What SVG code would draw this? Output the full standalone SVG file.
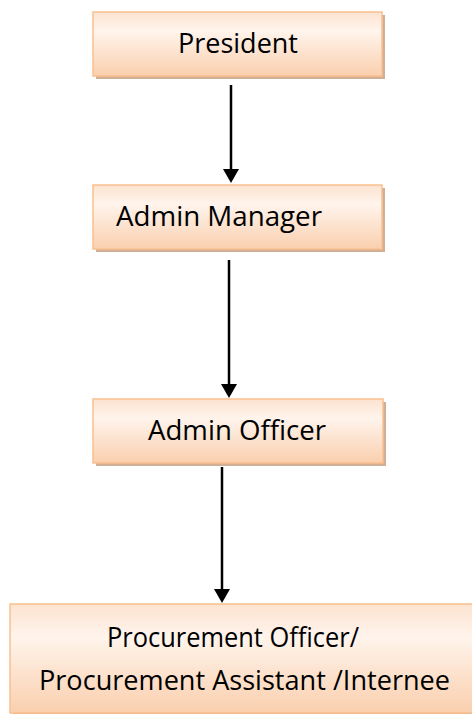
<svg xmlns="http://www.w3.org/2000/svg" width="472" height="714" viewBox="0 0 472 714">
  <defs>
    <linearGradient id="fill" x1="0" y1="0" x2="0" y2="1">
      <stop offset="0" stop-color="#FCE3D0"/>
      <stop offset="0.3" stop-color="#FFF4EC"/>
      <stop offset="1" stop-color="#FACFAE"/>
    </linearGradient>
    <marker id="arrow" markerUnits="userSpaceOnUse" markerWidth="16" markerHeight="16" refX="2" refY="8" orient="auto" viewBox="0 0 16 16">
      <path d="M0,0 L14,8 L0,16 Z" fill="#000"/>
    </marker>
  </defs>
  <style>
    .shadow { fill: #C9A084; opacity: 0.85; }
    .box { fill: url(#fill); stroke: #FAC08F; stroke-width: 1.5; }
    .label { font-family: "Open Sans", "Noto Sans", "Liberation Sans", sans-serif; font-size: 28px; fill: #000; }
    .edge { stroke: #000; stroke-width: 2.5; fill: none; marker-end: url(#arrow); }
  </style>
  <rect width="472" height="714" fill="#fff"/>

  <g id="president">
    <rect class="shadow" x="96" y="15" width="289" height="64"/>
    <rect class="box" x="93" y="12" width="289" height="64"/>
    <text class="label" x="238" y="53" text-anchor="middle" textLength="120" lengthAdjust="spacingAndGlyphs">President</text>
  </g>

  <g id="admin-manager">
    <rect class="shadow" x="96" y="188" width="289" height="64"/>
    <rect class="box" x="93" y="185" width="289" height="64"/>
    <text class="label" x="116" y="226" textLength="206" lengthAdjust="spacingAndGlyphs">Admin Manager</text>
  </g>

  <g id="admin-officer">
    <rect class="shadow" x="96" y="402" width="290" height="64"/>
    <rect class="box" x="93" y="399" width="290" height="64"/>
    <text class="label" x="237" y="440" text-anchor="middle" textLength="178" lengthAdjust="spacingAndGlyphs">Admin Officer</text>
  </g>

  <g id="procurement">
    <rect class="shadow" x="13" y="607" width="470" height="109"/>
    <rect class="box" x="10" y="604" width="470" height="109"/>
    <text class="label" x="233" y="647" text-anchor="middle" textLength="252" lengthAdjust="spacingAndGlyphs">Procurement Officer/</text>
    <text class="label" x="244.5" y="690" text-anchor="middle" textLength="411" lengthAdjust="spacingAndGlyphs">Procurement Assistant /Internee</text>
  </g>

  <g id="connectors">
    <line class="edge" x1="231" y1="85" x2="231" y2="171"/>
    <line class="edge" x1="229" y1="260" x2="229" y2="386"/>
    <line class="edge" x1="222" y1="467" x2="222" y2="591"/>
  </g>
</svg>
